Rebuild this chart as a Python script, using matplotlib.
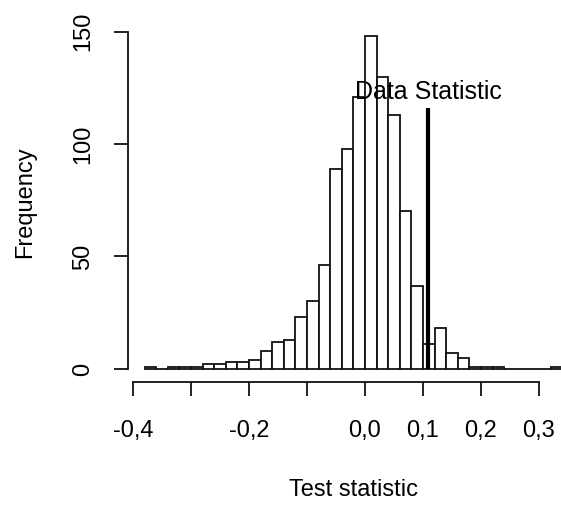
import numpy as np
import matplotlib.pyplot as plt

plt.rcParams['font.family'] = ['Liberation Sans', 'DejaVu Sans']

# histogram of the simulated test statistic (bin width 0.02)
bin_start = -0.38
bin_width = 0.02
counts = [1, 0, 1, 1, 1, 2, 2, 3, 3, 4, 8, 12, 13, 23, 30, 46, 89, 98, 121,
          148, 130, 113, 70, 37, 11, 18, 7, 5, 1, 1, 1, 0, 0, 0, 0, 1]

data_stat = 0.109
data_stat_height = 116
label_y = 123

x_ticks = [-0.4, -0.3, -0.2, -0.1, 0.0, 0.1, 0.2, 0.3]
x_labels = ['-0,4', '', '-0,2', '', '0,0', '0,1', '0,2', '0,3']
y_ticks = [0, 50, 100, 150]

W, H = 561, 509
fig = plt.figure(figsize=(W / 100, H / 100), dpi=100)
# plot region in pixels (R style, axes run past the right edge of the picture)
left, right, bottom, top = 127.9, 578.9, 382.3, 22.7
ax = fig.add_axes([left / W, 1 - bottom / H, (right - left) / W, (bottom - top) / H])

lefts = bin_start + bin_width * np.arange(len(counts))
ax.bar(lefts, counts, width=bin_width, align='edge', facecolor='white',
       edgecolor='#111111', linewidth=1.3)

ax.plot([data_stat, data_stat], [0, data_stat_height], color='black', lw=3,
        solid_capstyle='butt')
ax.text(data_stat, label_y, 'Data Statistic', ha='center', va='center', fontsize=18)

ax.set_xlim(-0.4088, 0.3688)
ax.set_ylim(-5.92, 153.92)

for s in ['top', 'right']:
    ax.spines[s].set_visible(False)
ax.spines['left'].set_bounds(0, 150)
ax.spines['bottom'].set_bounds(-0.4, 0.3)
for s in ['left', 'bottom']:
    ax.spines[s].set_linewidth(1.3)
    ax.spines[s].set_color('#111111')

ax.set_xticks(x_ticks)
ax.set_xticklabels(x_labels)
ax.set_yticks(y_ticks)
ax.set_yticklabels([str(v) for v in y_ticks], rotation=90, va='center')
ax.tick_params(axis='both', length=10, width=1.3, labelsize=17, color='#111111')
ax.tick_params(axis='x', pad=17)
ax.tick_params(axis='y', pad=14)

ax.set_xlabel('Test statistic', fontsize=17)
ax.xaxis.set_label_coords(0.5, (bottom - 490) / (bottom - top))
ax.xaxis.label.set_va('center')
ax.set_ylabel('Frequency', fontsize=17)
ax.yaxis.set_label_coords((25 - left) / (right - left), 0.5)
ax.yaxis.label.set_va('center')

fig.savefig('out.png', dpi=100)
